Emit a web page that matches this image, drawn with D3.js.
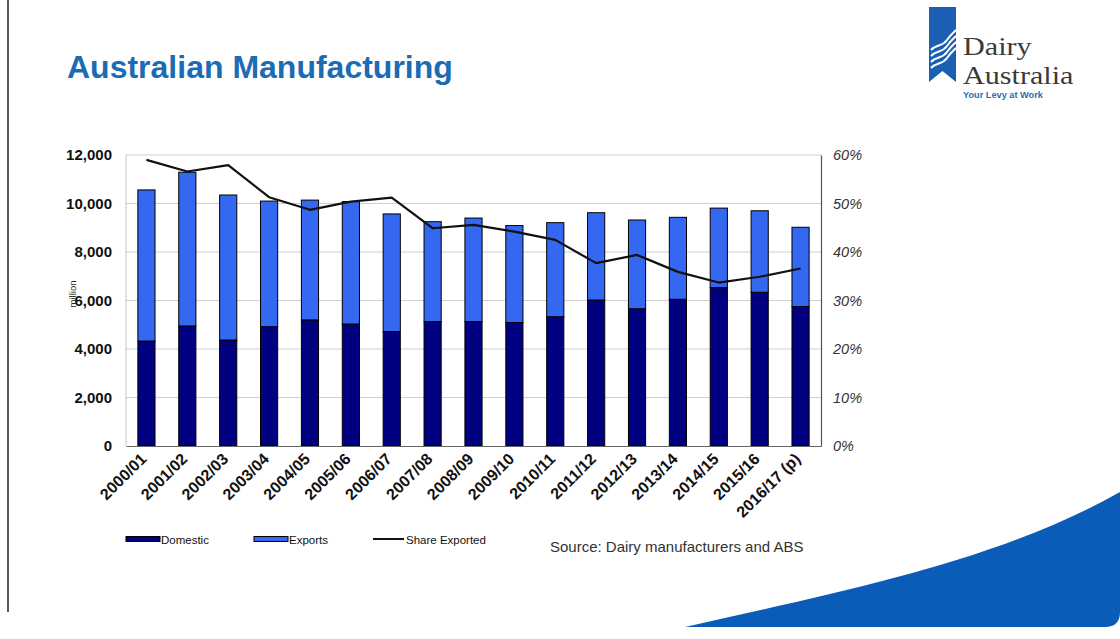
<!DOCTYPE html>
<html>
<head>
<meta charset="utf-8">
<script src="https://cdn.jsdelivr.net/npm/d3@7"></script>
<style>
  html, body { margin: 0; padding: 0; background: #fff; }
  svg { display: block; font-family: "Liberation Sans", Arial, sans-serif; }
</style>
</head>
<body>
<svg id="chart" width="1120" height="639"></svg>
<script>
// Dairy manufacturing output (million litres) by financial year
const categories = ["2000/01", "2001/02", "2002/03", "2003/04", "2004/05", "2005/06",
  "2006/07", "2007/08", "2008/09", "2009/10", "2010/11", "2011/12", "2012/13",
  "2013/14", "2014/15", "2015/16", "2016/17 (p)"];
const domestic = [4330, 4950, 4370, 4920, 5200, 5030, 4720, 5130, 5130, 5090, 5330,
  6020, 5660, 6050, 6530, 6340, 5750];
const exportsVol = [6230, 6340, 5980, 5180, 4940, 5050, 4850, 4120, 4270, 4000, 3880,
  3600, 3660, 3380, 3280, 3360, 3270];
// Share of production exported (%)
const shareExported = [59.0, 56.6, 57.9, 51.3, 48.7, 50.4, 51.2, 44.9, 45.6, 44.2, 42.5,
  37.7, 39.4, 35.9, 33.7, 34.9, 36.6];
const leftTicks = [0, 2000, 4000, 6000, 8000, 10000, 12000];
const rightTicks = [0, 10, 20, 30, 40, 50, 60];
const seriesNames = ["Domestic", "Exports", "Share Exported"];

const svg = d3.select("#chart");
const plot = { left: 126, right: 821, top: 155, bottom: 446 };

// thin page rule on the left edge
svg.append("line").attr("x1", 8).attr("x2", 8).attr("y1", 0).attr("y2", 612)
  .attr("stroke", "#222").attr("stroke-width", 1.5);

// title
svg.append("text").attr("x", 67).attr("y", 78)
  .attr("font-size", 32).attr("font-weight", "bold").attr("fill", "#1b6cb5")
  .text("Australian Manufacturing");

// logo: ribbon with waves and wordmark
const logo = svg.append("g");
logo.append("path")
  .attr("d", "M929,7 L956,7 L956,82 L942.5,71 L929,82 Z")
  .attr("fill", "#1a5fb4");
[0, 6, 12, 18].forEach(dy => {
  logo.append("path")
    .attr("d", `M931,${50 + dy} C937,${44 + dy} 942,${47 + dy} 947,${40 + dy} S953,${33 + dy} 956,${30 + dy}`)
    .attr("fill", "none").attr("stroke", "#fff").attr("stroke-width", 2);
});
const wordmark = logo.append("g").attr("transform", "translate(963,0) scale(1.16,1)")
  .attr("font-family", "'Liberation Serif', serif").attr("font-size", 26).attr("fill", "#3a3a3a");
wordmark.append("text").attr("x", 0).attr("y", 55).text("Dairy");
wordmark.append("text").attr("x", 0).attr("y", 84).text("Australia");
logo.append("text").attr("x", 963).attr("y", 98)
  .attr("font-size", 9.2).attr("font-weight", "bold").attr("fill", "#2a6db5")
  .text("Your Levy at Work");

// bottom-right swoosh
svg.append("path")
  .attr("d", "M685,627 C850,590 1000,560 1120,492 L1120,612 Q1120,627 1105,627 Z")
  .attr("fill", "#0b5cb8");

// scales
const x = d3.scaleBand().domain(categories).range([plot.left, plot.right]).paddingInner(0.58).paddingOuter(0.29);
const y = d3.scaleLinear().domain([0, 12000]).range([plot.bottom, plot.top]);
const y2 = d3.scaleLinear().domain([0, 60]).range([plot.bottom, plot.top]);

// gridlines
svg.append("g").selectAll("line").data(leftTicks.slice(1)).join("line")
  .attr("x1", plot.left).attr("x2", plot.right)
  .attr("y1", d => y(d)).attr("y2", d => y(d))
  .attr("stroke", "#cfcfcf").attr("stroke-width", 1);
// plot frame (left side)
svg.append("line").attr("x1", plot.left).attr("x2", plot.left)
  .attr("y1", plot.top).attr("y2", plot.bottom).attr("stroke", "#c4c4c4");

// stacked bars
const rows = categories.map((c, i) => ({ cat: c, domestic: domestic[i], exports: exportsVol[i] }));
const stack = d3.stack().keys(["domestic", "exports"])(rows);
const colors = { domestic: "#000080", exports: "#3468f0" };
svg.append("g").selectAll("g").data(stack).join("g")
  .attr("fill", d => colors[d.key])
  .selectAll("rect").data(d => d).join("rect")
  .attr("x", d => x(d.data.cat))
  .attr("width", x.bandwidth())
  .attr("y", d => y(d[1]))
  .attr("height", d => y(d[0]) - y(d[1]))
  .attr("stroke", "#000").attr("stroke-width", 1);

// share exported line
const line = d3.line()
  .x((d, i) => x(categories[i]) + x.bandwidth() / 2)
  .y(d => y2(d));
svg.append("path").datum(shareExported)
  .attr("d", line).attr("fill", "none")
  .attr("stroke", "#111").attr("stroke-width", 2.2).attr("stroke-linejoin", "round");

// left axis
const yAxis = svg.append("g").attr("transform", `translate(${plot.left},0)`)
  .call(d3.axisLeft(y).tickValues(leftTicks).tickFormat(d3.format(",")).tickSize(0).tickPadding(14));
yAxis.select(".domain").remove();
yAxis.selectAll("text").attr("font-size", 15).attr("font-weight", "bold").attr("fill", "#111")
  .attr("font-family", "'Liberation Sans', Arial, sans-serif");

// right axis
const y2Axis = svg.append("g").attr("transform", `translate(${plot.right},0)`)
  .call(d3.axisRight(y2).tickValues(rightTicks).tickFormat(d => d + "%").tickSize(0).tickPadding(12));
y2Axis.select(".domain").attr("stroke", "#555").attr("stroke-width", 1.2);
y2Axis.selectAll("text").attr("font-size", 14.5).attr("font-style", "italic").attr("fill", "#333")
  .attr("font-family", "'Liberation Sans', Arial, sans-serif");

// bottom axis
const xAxis = svg.append("g").attr("transform", `translate(0,${plot.bottom})`)
  .call(d3.axisBottom(x).tickSize(0).tickPadding(0));
xAxis.select(".domain").attr("stroke", "#666").attr("stroke-width", 1.2);
xAxis.selectAll("text")
  .attr("font-size", 16).attr("font-weight", "bold").attr("fill", "#111")
  .attr("font-family", "'Liberation Sans', Arial, sans-serif")
  .attr("text-anchor", "end")
  .attr("dy", 0)
  .attr("transform", "translate(1,14) rotate(-45)")
  .attr("y", 0).attr("x", 0);

// "million" axis title
svg.append("text")
  .attr("transform", "translate(76,294) rotate(-90)")
  .attr("text-anchor", "middle").attr("font-size", 9.5).attr("fill", "#222")
  .text("million");

// legend
const legend = svg.append("g").attr("font-family", "'Liberation Sans Narrow', 'Liberation Sans', Arial, sans-serif")
  .attr("font-size", 11.5).attr("fill", "#111");
const legendX = [126, 254, 373];
legend.append("rect").attr("x", legendX[0]).attr("y", 536.5).attr("width", 34).attr("height", 5)
  .attr("fill", colors.domestic).attr("stroke", "#000").attr("stroke-width", 1);
legend.append("rect").attr("x", legendX[1]).attr("y", 536.5).attr("width", 34).attr("height", 5)
  .attr("fill", colors.exports).attr("stroke", "#000").attr("stroke-width", 1);
legend.append("line").attr("x1", legendX[2]).attr("x2", legendX[2] + 31).attr("y1", 539).attr("y2", 539)
  .attr("stroke", "#111").attr("stroke-width", 2);
legend.selectAll("text.lg").data(seriesNames).join("text").attr("class", "lg")
  .attr("x", (d, i) => legendX[i] + (i === 2 ? 33 : 35)).attr("y", 543.5)
  .text(d => d);

// source note
svg.append("text").attr("x", 550).attr("y", 552)
  .attr("font-size", 15).attr("fill", "#333")
  .text("Source: Dairy manufacturers and ABS");
</script>
</body>
</html>
